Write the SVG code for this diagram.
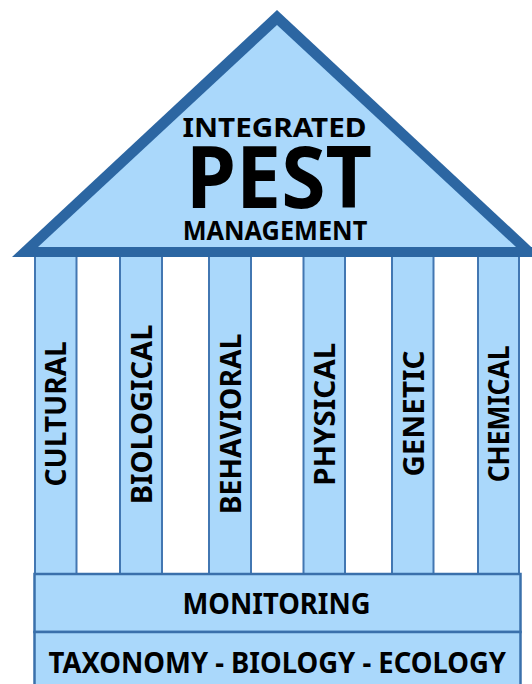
<svg xmlns="http://www.w3.org/2000/svg" width="532" height="684" viewBox="0 0 532 684">
  <style>
    .lbl { font-family: "Noto Sans", "Open Sans", "Liberation Sans", sans-serif; font-weight: 700; fill: #000; text-anchor: middle; }
    .pillar { fill: #aad8fb; stroke: #4277b2; stroke-width: 2; }
    .band { fill: #aad8fb; stroke: #3a70ab; stroke-width: 2.5; }
  </style>
  <rect x="0" y="0" width="532" height="684" fill="#ffffff"/>

  <!-- roof: dark outer triangle with a light inner triangle -->
  <g id="roof">
    <polygon points="277,10 12,257 542,257" fill="#2c66a2"/>
    <polygon points="277,25 38,247 516,247" fill="#aad8fb"/>
    <text class="lbl" x="274.5" y="137.3" font-size="27" textLength="184" lengthAdjust="spacingAndGlyphs">INTEGRATED</text>
    <text class="lbl" x="279" y="208.3" font-size="86" textLength="186" lengthAdjust="spacingAndGlyphs">PEST</text>
    <text class="lbl" x="275" y="240" font-size="26" textLength="184.6" lengthAdjust="spacingAndGlyphs">MANAGEMENT</text>
  </g>

  <!-- pillars -->
  <g id="pillar-cultural">
    <rect class="pillar" x="35" y="256" width="41.5" height="318"/>
    <text class="lbl" font-size="28.5" textLength="145.4" lengthAdjust="spacingAndGlyphs" transform="translate(66,413.9) rotate(-90)">CULTURAL</text>
  </g>
  <g id="pillar-biological">
    <rect class="pillar" x="120" y="256" width="42" height="318"/>
    <text class="lbl" font-size="28.5" textLength="179.7" lengthAdjust="spacingAndGlyphs" transform="translate(151.7,414.4) rotate(-90)">BIOLOGICAL</text>
  </g>
  <g id="pillar-behavioral">
    <rect class="pillar" x="209" y="256" width="42" height="318"/>
    <text class="lbl" font-size="28.5" textLength="180.7" lengthAdjust="spacingAndGlyphs" transform="translate(240.7,423.9) rotate(-90)">BEHAVIORAL</text>
  </g>
  <g id="pillar-physical">
    <rect class="pillar" x="303.5" y="256" width="41.5" height="318"/>
    <text class="lbl" font-size="28.5" textLength="143" lengthAdjust="spacingAndGlyphs" transform="translate(335,414.3) rotate(-90)">PHYSICAL</text>
  </g>
  <g id="pillar-genetic">
    <rect class="pillar" x="392" y="256" width="41.5" height="318"/>
    <text class="lbl" font-size="28.5" textLength="126" lengthAdjust="spacingAndGlyphs" transform="translate(424,413.6) rotate(-90)">GENETIC</text>
  </g>
  <g id="pillar-chemical">
    <rect class="pillar" x="478" y="256" width="41" height="318"/>
    <text class="lbl" font-size="28.5" textLength="136.8" lengthAdjust="spacingAndGlyphs" transform="translate(509.3,413.9) rotate(-90)">CHEMICAL</text>
  </g>

  <!-- re-draw the roof base band over the pillar tops -->
  <rect x="30" y="247" width="502" height="10" fill="#2c66a2"/>

  <!-- base layers -->
  <g id="monitoring">
    <rect class="band" x="34.5" y="574" width="486" height="58"/>
    <text class="lbl" x="276.5" y="614" font-size="28" textLength="188" lengthAdjust="spacingAndGlyphs">MONITORING</text>
  </g>
  <g id="foundation">
    <rect class="band" x="34.5" y="632" width="486" height="60"/>
    <text class="lbl" x="277.3" y="673" font-size="28" textLength="457.5" lengthAdjust="spacingAndGlyphs">TAXONOMY - BIOLOGY - ECOLOGY</text>
  </g>
</svg>
